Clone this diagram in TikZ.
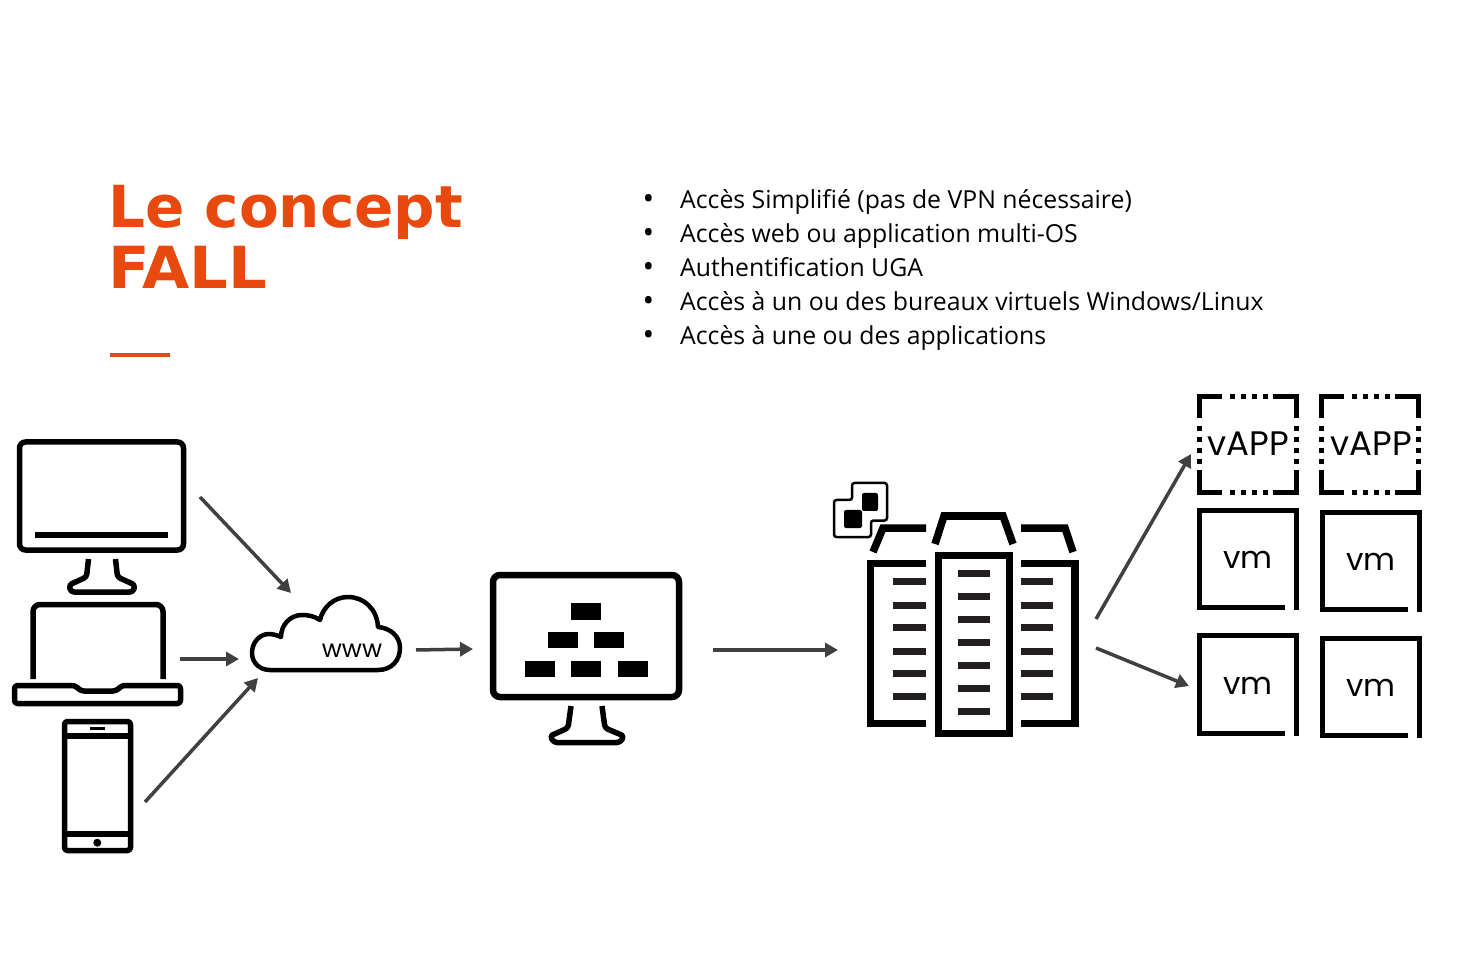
\documentclass[tikz,border=0pt]{standalone}
\usepackage{fontspec}
\usetikzlibrary{arrows.meta}
\newfontfamily\titrefont{DejaVu Sans}
\newfontfamily\listefont{Open Sans}
\newfontfamily\iconefont{Poppins}
\definecolor{fallorange}{HTML}{E8490F}
\definecolor{fleche}{HTML}{404040}
\definecolor{barre}{HTML}{231F20}
\tikzset{
  titre/.style={anchor=base west, inner sep=0, text=fallorange, font=\titrefont\bfseries\fontsize{58}{58}\selectfont},
  liste/.style={anchor=base west, inner sep=0, font=\listefont\fontsize{24.8}{24.8}\selectfont},
  puce/.style={anchor=base west, inner sep=0, font=\listefont\fontsize{31}{31}\selectfont},
  iconetexte/.style={inner sep=0, font=\iconefont\fontsize{34}{34}\selectfont},
  vmtexte/.style={inner sep=0, font=\iconefont\fontsize{31}{31}\selectfont},
  fine/.style={draw=black, line width=5.5, line join=round},
  epaisse/.style={draw=black, line width=7.5, line join=miter},
  barreau/.style={draw=barre, line width=7},
  cadre/.style={draw=black, line width=5},
  point/.style={fill=black},
  lien/.style={draw=fleche, line width=3.5, -{Triangle[width=14pt,length=13pt]}}
}

\begin{document}
\begin{tikzpicture}[x=1pt, y=-1pt]
\useasboundingbox (0, 0) rectangle (1460, 973);

\node [titre] (titre1) at (108, 228) {Le concept};
\node [titre] (titre2) at (108, 289) {\scalebox{1.05}[1]{FALL}};
\draw [fallorange, line width=3.5] (110, 355) -- (170, 355);

\node [puce] (puce1) at (642.5, 210) {•};
\node [puce] (puce2) at (642.5, 244) {•};
\node [puce] (puce3) at (642.5, 278) {•};
\node [puce] (puce4) at (642.5, 312) {•};
\node [puce] (puce5) at (642.5, 346) {•};
\node [liste] (ligne1) at (680, 208.5) {Accès Simplifié (pas de VPN nécessaire)};
\node [liste] (ligne2) at (680, 242.5) {Accès web ou application multi-OS};
\node [liste] (ligne3) at (680, 276.5) {Authentification UGA};
\node [liste] (ligne4) at (680, 310.5) {Accès à un ou des bureaux virtuels Windows/Linux};
\node [liste] (ligne5) at (680, 344.5) {Accès à une ou des applications};

\draw [fine, rounded corners=6] (19.5, 442) rectangle (183.5, 550);
\fill [black] (35, 532) rectangle (168, 538);
\draw [fine, rounded corners=3] (88.5, 559) -- (86.5, 577) -- (69, 585) -- (71, 592) -- (133, 592) -- (135, 585) -- (117.5, 577) -- (115.5, 559);

\draw [fine, rounded corners=7] (33, 679) -- (33, 604.5) -- (163, 604.5) -- (163, 679);
\draw [fine, rounded corners=3] (14.5, 685.5) -- (75, 685.5) -- (81, 691) -- (116, 691) -- (122, 685.5) -- (180.5, 685.5) -- (180.5, 703.5) -- (14.5, 703.5) -- cycle;

\draw [fine, rounded corners=3] (64.5, 721.5) rectangle (130.5, 850.5);
\draw [fine] (64.5, 736) -- (130.5, 736);
\draw [fine] (64.5, 834) -- (130.5, 834);
\draw [black, line width=3] (90, 728.5) -- (105, 728.5);
\fill [black] (97.3, 842.7) circle [radius=4];

\draw [fine, line width=4.5] (270, 670) -- (378, 670) .. controls (392, 670) and (400, 660) .. (400, 648) .. controls (400, 636) and (390, 628) .. (378, 627) .. controls (377, 609) and (364, 597) .. (348, 597) .. controls (334, 597) and (323, 607) .. (320, 620) .. controls (314, 616) and (308, 615) .. (302, 615) .. controls (290, 615) and (281, 625) .. (281, 637) .. controls (277, 635) and (272, 634) .. (269, 634) .. controls (259, 634) and (252, 643) .. (252, 653) .. controls (252, 663) and (260, 670) .. (270, 670) -- cycle;
\node [iconetexte, font=\iconefont\fontsize{24.5}{24.5}\selectfont] (www) at (352, 650.5) {www};

\draw [fine, line width=6.5, rounded corners=7] (493, 575) rectangle (679, 697);
\fill [black] (571, 603) rectangle (601, 620);
\fill [black] (548, 632) rectangle (578, 648);
\fill [black] (594, 632) rectangle (624, 648);
\fill [black] (525, 661) rectangle (555, 677);
\fill [black] (571, 661) rectangle (601, 677);
\fill [black] (618, 661) rectangle (648, 677);
\draw [fine, rounded corners=3] (571, 706) -- (568, 728) -- (550, 736) -- (554, 742.5) -- (620, 742.5) -- (624, 736) -- (605, 728) -- (602, 706);

\draw [epaisse] (926, 563.5) -- (870.5, 563.5) -- (870.5, 723.5) -- (926, 723.5);
\draw [epaisse] (1021, 563.5) -- (1075, 563.5) -- (1075, 723.5) -- (1021, 723.5);
\draw [epaisse] (938.5, 555.5) rectangle (1009.5, 733.5);
\draw [epaisse] (873, 552) -- (883, 528) -- (926, 528);
\draw [epaisse] (1021, 528) -- (1065, 528) -- (1073, 552);
\draw [epaisse] (935, 544) -- (944, 516) -- (1003, 516) -- (1013, 544);

\draw [barreau] (893, 581.7) -- (926, 581.7);
\draw [barreau] (893, 605) -- (926, 605);
\draw [barreau] (893, 627.7) -- (926, 627.7);
\draw [barreau] (893, 651) -- (926, 651);
\draw [barreau] (893, 673.7) -- (926, 673.7);
\draw [barreau] (893, 696.7) -- (926, 696.7);

\draw [barreau] (958, 573.3) -- (990, 573.3);
\draw [barreau] (958, 596.3) -- (990, 596.3);
\draw [barreau] (958, 619.3) -- (990, 619.3);
\draw [barreau] (958, 642.3) -- (990, 642.3);
\draw [barreau] (958, 665) -- (990, 665);
\draw [barreau] (958, 688.3) -- (990, 688.3);
\draw [barreau] (958, 711.3) -- (990, 711.3);

\draw [barreau] (1021, 581.7) -- (1053, 581.7);
\draw [barreau] (1021, 605) -- (1053, 605);
\draw [barreau] (1021, 627.7) -- (1053, 627.7);
\draw [barreau] (1021, 651) -- (1053, 651);
\draw [barreau] (1021, 673.7) -- (1053, 673.7);
\draw [barreau] (1021, 696.7) -- (1053, 696.7);

\draw [black, line width=2.5, rounded corners=2.5] (852, 483) -- (887, 483) -- (887, 520.5) -- (871, 520.5) -- (871, 537) -- (834, 537) -- (834, 500) -- (852, 500) -- cycle;
\fill [black, rounded corners=2] (862, 493) rectangle (878, 511);
\fill [black, rounded corners=2] (844, 510) rectangle (862, 528);

\draw [cadre] (1199.5, 418) -- (1199.5, 396.5) -- (1222, 396.5);
\draw [cadre] (1273, 396.5) -- (1296.5, 396.5) -- (1296.5, 418);
\draw [cadre] (1199.5, 470) -- (1199.5, 492.5) -- (1222, 492.5);
\draw [cadre] (1273, 492.5) -- (1296.5, 492.5) -- (1296.5, 470);
\draw [cadre] (1321.5, 418) -- (1321.5, 396.5) -- (1344, 396.5);
\draw [cadre] (1395, 396.5) -- (1418.5, 396.5) -- (1418.5, 418);
\draw [cadre] (1321.5, 470) -- (1321.5, 492.5) -- (1344, 492.5);
\draw [cadre] (1395, 492.5) -- (1418.5, 492.5) -- (1418.5, 470);

\fill [point] (1229.5, 394) rectangle +(5, 5);
\fill [point] (1240.5, 394) rectangle +(5, 5);
\fill [point] (1251.5, 394) rectangle +(5, 5);
\fill [point] (1262.5, 394) rectangle +(5, 5);
\fill [point] (1229.5, 490) rectangle +(5, 5);
\fill [point] (1240.5, 490) rectangle +(5, 5);
\fill [point] (1251.5, 490) rectangle +(5, 5);
\fill [point] (1262.5, 490) rectangle +(5, 5);
\fill [point] (1197, 426) rectangle +(5, 5);
\fill [point] (1197, 437) rectangle +(5, 5);
\fill [point] (1197, 448) rectangle +(5, 5);
\fill [point] (1197, 459) rectangle +(5, 5);
\fill [point] (1294, 426) rectangle +(5, 5);
\fill [point] (1294, 437) rectangle +(5, 5);
\fill [point] (1294, 448) rectangle +(5, 5);
\fill [point] (1294, 459) rectangle +(5, 5);

\fill [point] (1351.5, 394) rectangle +(5, 5);
\fill [point] (1362.5, 394) rectangle +(5, 5);
\fill [point] (1373.5, 394) rectangle +(5, 5);
\fill [point] (1384.5, 394) rectangle +(5, 5);
\fill [point] (1351.5, 490) rectangle +(5, 5);
\fill [point] (1362.5, 490) rectangle +(5, 5);
\fill [point] (1373.5, 490) rectangle +(5, 5);
\fill [point] (1384.5, 490) rectangle +(5, 5);
\fill [point] (1319, 426) rectangle +(5, 5);
\fill [point] (1319, 437) rectangle +(5, 5);
\fill [point] (1319, 448) rectangle +(5, 5);
\fill [point] (1319, 459) rectangle +(5, 5);
\fill [point] (1416, 426) rectangle +(5, 5);
\fill [point] (1416, 437) rectangle +(5, 5);
\fill [point] (1416, 448) rectangle +(5, 5);
\fill [point] (1416, 459) rectangle +(5, 5);

\node [iconetexte] (vapp1) at (1248, 444) {vAPP};
\node [iconetexte] (vapp2) at (1371, 444) {vAPP};

\draw [cadre] (1285, 607.5) -- (1199.5, 607.5) -- (1199.5, 510.5) -- (1296.5, 510.5) -- (1296.5, 610);
\draw [cadre] (1408, 609.5) -- (1322.5, 609.5) -- (1322.5, 512.5) -- (1419.5, 512.5) -- (1419.5, 612);
\draw [cadre] (1285, 733.5) -- (1199.5, 733.5) -- (1199.5, 635.5) -- (1296.5, 635.5) -- (1296.5, 736);
\draw [cadre] (1408, 735.5) -- (1322.5, 735.5) -- (1322.5, 638.5) -- (1419.5, 638.5) -- (1419.5, 738);

\node [vmtexte] (vm1) at (1248, 559.5) {vm};
\node [vmtexte] (vm2) at (1371, 561.5) {vm};
\node [vmtexte] (vm3) at (1248, 685.5) {vm};
\node [vmtexte] (vm4) at (1371, 687.5) {vm};

\coordinate (bureau) at (200, 497);
\coordinate (nuagehaut) at (291, 593);
\coordinate (portable) at (180, 659);
\coordinate (nuagegauche) at (239, 659);
\coordinate (mobile) at (145, 802);
\coordinate (nuagebas) at (258, 678);
\coordinate (nuagesortie) at (416, 650);
\coordinate (ecranentree) at (473, 649);
\coordinate (ecransortie) at (713, 650);
\coordinate (serveurentree) at (838, 650);
\coordinate (serveurhaut) at (1096, 619);
\coordinate (vappentree) at (1191, 454);
\coordinate (serveurbas) at (1096, 648);
\coordinate (vmentree) at (1189, 686);

\draw [lien] (bureau) -- (nuagehaut);
\draw [lien] (portable) -- (nuagegauche);
\draw [lien] (mobile) -- (nuagebas);
\draw [lien] (nuagesortie) -- (ecranentree);
\draw [lien] (ecransortie) -- (serveurentree);
\draw [lien] (serveurhaut) -- (vappentree);
\draw [lien] (serveurbas) -- (vmentree);
\end{tikzpicture}
\end{document}
